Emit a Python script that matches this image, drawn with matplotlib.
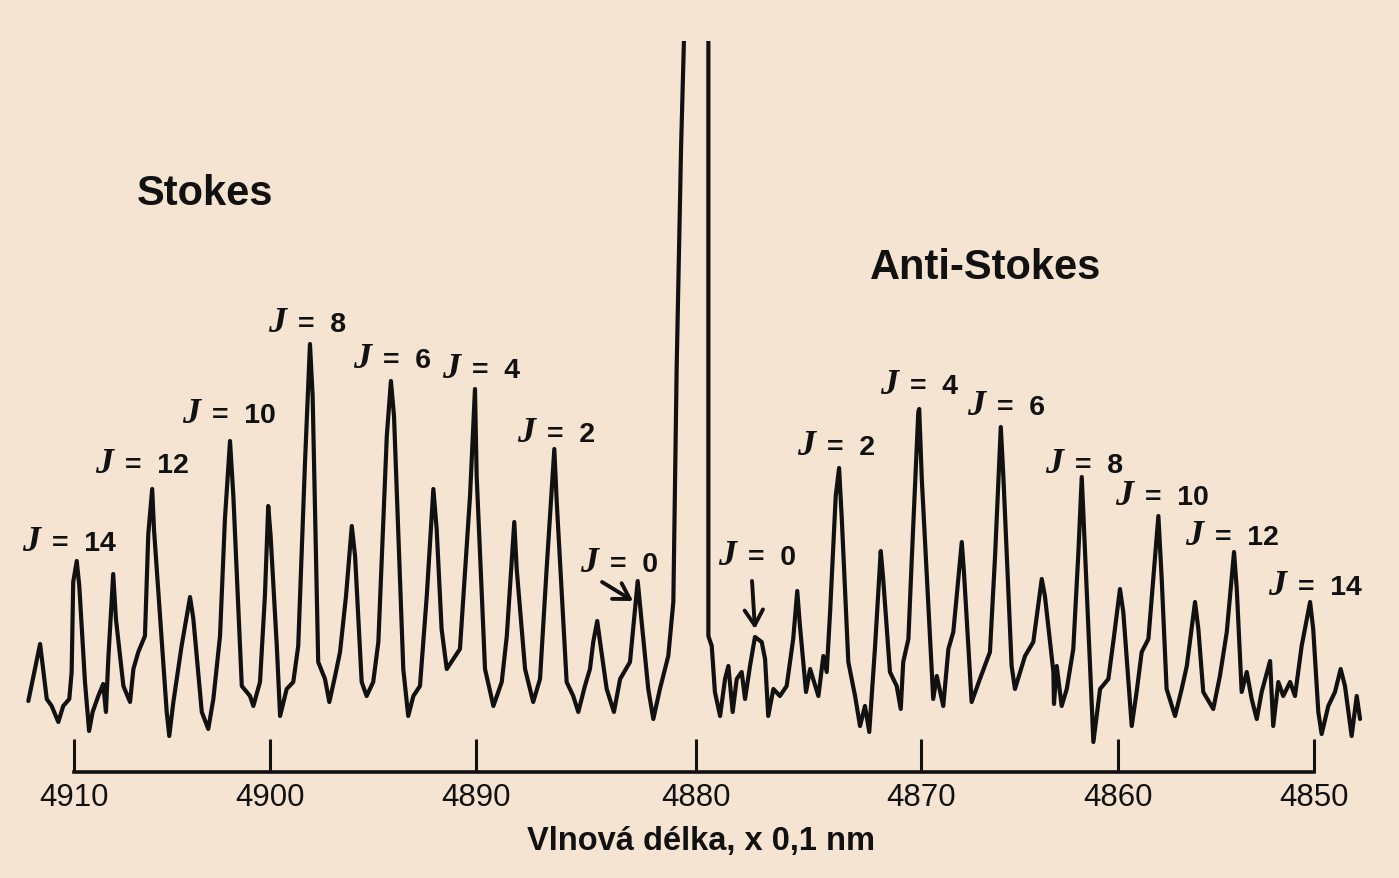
import numpy as np
import matplotlib
matplotlib.use("Agg")
import matplotlib.pyplot as plt

plt.rcParams['font.family'] = ['Liberation Sans', 'DejaVu Sans']

# ---------------- data ----------------
# recorded Raman trace: wavelength (x 0.1 nm) and intensity (arbitrary units)
TRACE_WL = [
    4912.33, 4911.73, 4911.39, 4911.14, 4910.80, 4910.55, 4910.24, 4910.12, 4910.04, 4909.86,
    4909.73, 4909.44, 4909.23, 4909.05, 4908.76, 4908.51, 4908.37, 4908.25, 4908.00, 4907.86,
    4907.48, 4907.14, 4906.97, 4906.72, 4906.38, 4906.21, 4906.01, 4905.92, 4905.27, 4905.14,
    4904.93, 4904.51, 4904.08, 4903.91, 4903.48, 4903.15, 4902.89, 4902.55, 4902.30, 4902.04,
    4901.87, 4901.44, 4901.02, 4900.85, 4900.51, 4900.26, 4900.09, 4899.97, 4899.67, 4899.51,
    4899.19, 4898.87, 4898.63, 4898.30, 4898.06, 4897.93, 4897.66, 4897.33, 4897.12, 4896.84,
    4896.60, 4896.31, 4896.03, 4895.87, 4895.55, 4895.31, 4894.99, 4894.74, 4894.33, 4894.13,
    4893.98, 4893.53, 4893.29, 4893.04, 4892.72, 4892.39, 4892.07, 4891.91, 4891.67, 4891.42,
    4891.10, 4890.78, 4890.29, 4890.05, 4889.97, 4889.59, 4889.21, 4888.83, 4888.60, 4888.26,
    4888.15, 4887.77, 4887.40, 4887.09, 4886.79, 4886.44, 4886.33, 4885.88, 4885.58, 4885.35,
    4885.05, 4884.82, 4884.67, 4884.49, 4884.36, 4884.06, 4883.73, 4883.45, 4883.00, 4882.65,
    4882.47, 4882.17, 4881.94, 4881.64, 4881.26, 4881.03, 4880.88, 4880.68, 4880.55, 4880.00,
    4879.45, 4879.45, 4879.30, 4879.16, 4878.93, 4878.71, 4878.56, 4878.37, 4878.19, 4877.97,
    4877.82, 4877.60, 4877.38, 4877.08, 4876.93, 4876.79, 4876.56, 4876.27, 4875.97, 4875.68,
    4875.50, 4875.38, 4875.11, 4874.93, 4874.56, 4874.34, 4874.19, 4874.04, 4873.79, 4873.64,
    4873.52, 4873.23, 4872.93, 4872.71, 4872.49, 4872.30, 4872.04, 4871.79, 4871.68, 4871.38,
    4871.08, 4870.90, 4870.79, 4870.56, 4870.41, 4870.12, 4870.08, 4869.96, 4869.38, 4869.20,
    4868.87, 4868.61, 4868.36, 4867.93, 4867.82, 4867.43, 4867.01, 4866.50, 4866.24, 4865.95,
    4865.82, 4865.40, 4865.23, 4864.72, 4864.30, 4863.87, 4863.71, 4863.28, 4863.25, 4863.11,
    4862.86, 4862.60, 4862.27, 4862.02, 4861.84, 4861.68, 4861.25, 4860.91, 4860.49, 4860.24,
    4859.90, 4859.73, 4859.30, 4859.05, 4858.79, 4858.45, 4857.94, 4857.77, 4857.52, 4857.09,
    4856.75, 4856.49, 4856.07, 4855.90, 4855.65, 4855.14, 4854.80, 4854.45, 4854.08, 4853.94,
    4853.69, 4853.43, 4853.18, 4852.92, 4852.67, 4852.24, 4852.08, 4851.82, 4851.57, 4851.22,
    4850.97, 4850.63, 4850.20, 4850.04, 4849.78, 4849.61, 4849.27, 4848.93, 4848.64, 4848.42,
    4848.08, 4847.82, 4847.65,
]
TRACE_I = [
    71, 128, 73, 66, 50, 66, 73, 100, 190, 211,
    186, 90, 41, 60, 76, 88, 60, 113, 198, 153,
    86, 70, 103, 120, 136, 238, 283, 243, 60, 36,
    70, 126, 175, 153, 60, 43, 73, 136, 253, 331,
    276, 86, 76, 66, 90, 176, 266, 236, 126, 56,
    83, 90, 126, 310, 428, 376, 110, 93, 70, 96,
    120, 176, 246, 216, 90, 76, 90, 130, 336, 391,
    356, 103, 56, 76, 86, 176, 283, 243, 143, 103,
    113, 123, 276, 383, 296, 103, 66, 90, 136, 250,
    203, 103, 70, 93, 203, 323, 270, 90, 76, 60,
    86, 103, 130, 151, 130, 83, 60, 93, 110, 191,
    150, 83, 53, 83, 116, 170, 403, 623, 730, 1000,
    760, 136, 126, 80, 56, 93, 106, 60, 93, 100,
    73, 106, 135, 130, 113, 56, 83, 76, 86, 133,
    181, 146, 80, 103, 76, 116, 100, 160, 276, 304,
    253, 110, 76, 46, 66, 40, 126, 221, 193, 100,
    86, 63, 110, 133, 213, 360, 363, 293, 73, 96,
    66, 123, 140, 230, 200, 70, 93, 120, 216, 345,
    296, 106, 83, 116, 130, 193, 176, 100, 68, 106,
    66, 83, 123, 216, 295, 223, 30, 83, 93, 130,
    183, 160, 46, 80, 120, 133, 256, 193, 83, 56,
    83, 106, 170, 143, 80, 63, 96, 140, 220, 183,
    80, 100, 73, 53, 80, 111, 46, 90, 76, 90,
    76, 126, 170, 143, 60, 38, 66, 80, 103, 86,
    36, 76, 53,
]
assert len(TRACE_WL) == len(TRACE_I)

WL_TICKS = [4850, 4860, 4870, 4880, 4890, 4900, 4910]

STOKES_J = [14, 12, 10, 8, 6, 4, 2, 0]
ANTI_J = [0, 2, 4, 6, 8, 10, 12, 14]

# ---------------- layout ----------------
# position of the calibration ticks across the (non-uniform) recorder chart, pixels
TICK_PX = [1314, 1118, 921, 696, 476, 270, 74]
STOKES_LABEL_WL = [4912.65, 4908.93, 4904.49, 4900.10, 4895.97, 4891.65, 4888.14, 4885.27]
STOKES_LABEL_I = [222, 300, 350, 441, 405, 395, 331, 201]
ANTI_LABEL_WL = [4879.02, 4875.51, 4871.82, 4867.66, 4863.71, 4860.15, 4856.58, 4852.35]
ANTI_LABEL_I = [208, 318, 379, 358, 300, 268, 228, 178]

BG = '#F5E4D1'
INK = '#111111'

WL_ASC = np.array(WL_TICKS, float)
NEG_PX = -np.array(TICK_PX, float)


def _lin(x, xp, fp):
    x = np.asarray(x, float)
    y = np.interp(x, xp, fp)
    s0 = (fp[1] - fp[0]) / (xp[1] - xp[0])
    s1 = (fp[-1] - fp[-2]) / (xp[-1] - xp[-2])
    y = np.where(x < xp[0], fp[0] + (x - xp[0]) * s0, y)
    y = np.where(x > xp[-1], fp[-1] + (x - xp[-1]) * s1, y)
    return y


def fwd(w):
    return _lin(w, WL_ASC, NEG_PX)


def inv(u):
    return _lin(u, NEG_PX, WL_ASC)


W, H = 1399, 879
fig = plt.figure(figsize=(W / 100, H / 100), dpi=100, facecolor=BG)
ax = fig.add_axes([0, 1 - 773 / H, 1, (773 - 42) / H])
ax.set_facecolor(BG)
ax.set_xscale('function', functions=(fwd, inv))

ax.plot(TRACE_WL, TRACE_I, color=INK, lw=3.0,
        solid_joinstyle='round', solid_capstyle='round')

ax.set_xlim(float(inv(0.0)), float(inv(-float(W))))
ax.set_ylim(0, 731)

for s in ('left', 'right', 'top'):
    ax.spines[s].set_visible(False)
ax.spines['bottom'].set_bounds(4850, 4910)
ax.spines['bottom'].set_linewidth(2.6)
ax.spines['bottom'].set_color(INK)
ax.set_yticks([])
ax.set_xticks(WL_TICKS)
ax.set_xticklabels([str(t) for t in WL_TICKS])
ax.tick_params(axis='x', direction='in', length=24, width=2.2, labelsize=22.5,
               pad=7, colors=INK)

ax.set_xlabel('Vlnová délka, x 0,1 nm', fontsize=23.5, fontweight='bold', color=INK)
ax.xaxis.set_label_coords(0.501, -0.072)

ax.text(4906.79, 568, 'Stokes', fontsize=30, fontweight='bold', color=INK,
        ha='left', va='baseline')
ax.text(4872.27, 494, 'Anti-Stokes', fontsize=30, fontweight='bold', color=INK,
        ha='left', va='baseline')


def j_label(x, y, j):
    ax.text(x, y, 'J', family='Liberation Serif', style='italic', fontweight='bold',
            fontsize=26, color=INK, ha='left', va='baseline')
    ax.annotate('=  ' + str(j), xy=(x, y), xytext=(21.5, 0), textcoords='offset points',
                fontsize=20.5, fontweight='bold', color=INK, ha='left', va='baseline')


for j, x, y in zip(STOKES_J, STOKES_LABEL_WL, STOKES_LABEL_I):
    j_label(x, y, j)
for j, x, y in zip(ANTI_J, ANTI_LABEL_WL, ANTI_LABEL_I):
    j_label(x, y, j)

arrow = dict(arrowstyle='->,head_length=0.5,head_width=0.3', lw=2.8, color=INK,
             shrinkA=0, shrinkB=0, mutation_scale=22)
ax.annotate('', xy=(4882.86, 171), xytext=(4884.27, 190), arrowprops=arrow)
ax.annotate('', xy=(4877.38, 143), xytext=(4877.51, 191), arrowprops=arrow)

fig.savefig('out.png', dpi=100, facecolor=BG)
